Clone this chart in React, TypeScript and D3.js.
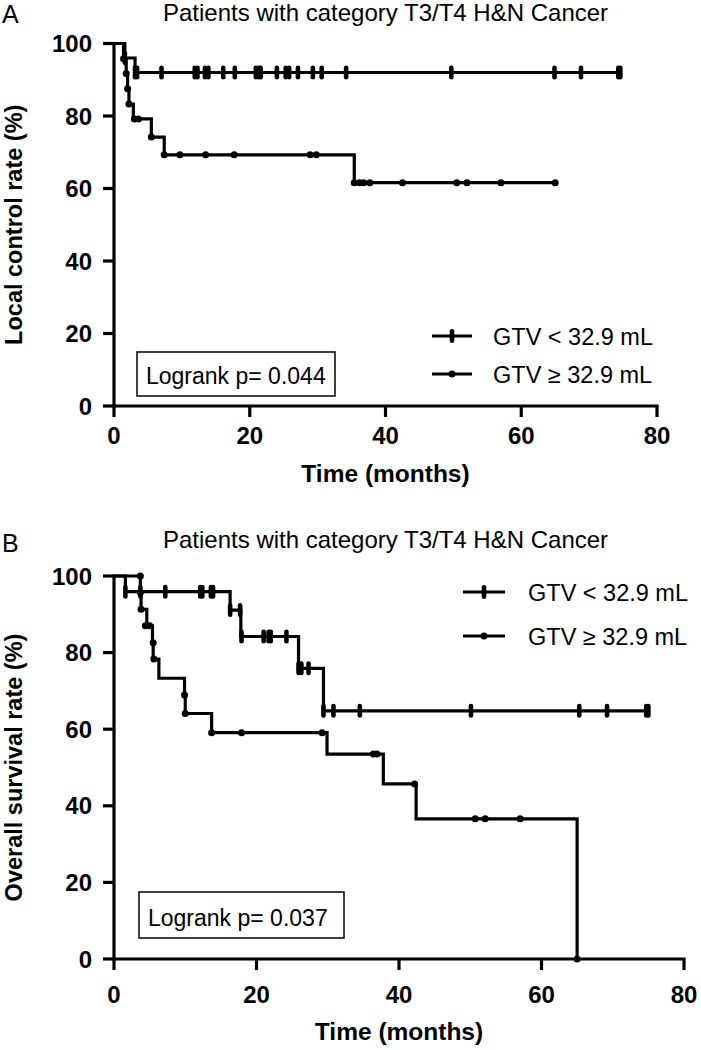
import React from "react";
import * as d3 from "d3";

// ---------- shared ticks ----------
const xTickValues = [0, 20, 40, 60, 80];
const yTickValues = [0, 20, 40, 60, 80, 100];

// ---------- Panel A: local control ----------
const aLtStepT = [0, 1.6, 3.1];
const aLtStepS = [100, 96, 92];
const aLtEnd = 74.6;
const aLtCensT = [1.6, 3.1, 3.4, 7.0, 11.9, 12.3, 13.4, 13.9, 16.1, 17.8, 20.9, 21.3, 21.6, 24.0, 25.3, 25.8, 27.1, 29.3, 30.6, 34.2, 49.7, 64.9, 68.8, 74.3, 74.6];
const aLtCensS = [96, 92, 92, 92, 92, 92, 92, 92, 92, 92, 92, 92, 92, 92, 92, 92, 92, 92, 92, 92, 92, 92, 92, 92, 92];

const aGeStepT = [0, 1.4, 1.8, 2.0, 2.2, 2.85, 5.5, 7.4, 35.4];
const aGeStepS = [100, 95.8, 91.7, 87.5, 83.3, 79.2, 74.2, 69.3, 61.6];
const aGeEnd = 65.0;
const aGeCensT = [1.4, 1.8, 2.0, 2.2, 3.0, 3.6, 5.5, 7.4, 9.7, 13.5, 17.7, 28.9, 29.8, 35.4, 36.2, 36.8, 37.7, 42.5, 50.5, 52.0, 57.0, 65.0];
const aGeCensS = [95.8, 91.7, 87.5, 83.3, 79.2, 79.2, 74.2, 69.3, 69.3, 69.3, 69.3, 69.3, 69.3, 61.6, 61.6, 61.6, 61.6, 61.6, 61.6, 61.6, 61.6, 61.6];

// ---------- Panel B: overall survival ----------
const bLtStepT = [0, 1.6, 16.3, 17.8, 25.9, 29.4];
const bLtStepS = [100, 95.9, 91.1, 84.2, 75.9, 64.8];
const bLtEnd = 75.0;
const bLtCensT = [1.6, 3.7, 7.2, 12.1, 12.4, 13.6, 13.9, 16.3, 17.7, 17.9, 21.0, 21.7, 22.0, 24.2, 25.9, 26.3, 27.3, 29.4, 30.8, 34.5, 50.1, 65.3, 69.2, 74.7, 75.0];
const bLtCensS = [95.9, 95.9, 95.9, 95.9, 95.9, 95.9, 95.9, 91.1, 91.1, 84.2, 84.2, 84.2, 84.2, 84.2, 75.9, 75.9, 75.9, 64.8, 64.8, 64.8, 64.8, 64.8, 64.8, 64.8, 64.8];

const bGeStepT = [0, 3.7, 3.8, 4.6, 5.4, 5.5, 6.3, 9.9, 10.0, 13.7, 29.9, 37.8, 42.4, 65.0];
const bGeStepS = [100, 95.7, 91.3, 87.0, 82.6, 78.3, 73.3, 68.9, 64.1, 59.1, 53.5, 45.7, 36.6, 0];
const bGeEnd = 65.0;
const bGeCensT = [3.7, 3.7, 3.8, 4.4, 5.0, 5.5, 5.6, 9.9, 10.0, 13.7, 17.9, 29.2, 36.4, 36.9, 42.2, 50.7, 52.1, 57.0, 65.0];
const bGeCensS = [100, 95.7, 91.3, 87.0, 87.0, 82.6, 78.3, 68.9, 64.1, 59.1, 59.1, 59.1, 53.5, 53.5, 45.7, 36.6, 36.6, 36.6, 0];

const legendLabels = ["GTV < 32.9 mL", "GTV \u2265 32.9 mL"];
const panelTitle = "Patients with category T3/T4 H&N Cancer";

const FONT = "'Liberation Sans', Arial, Helvetica, sans-serif";

type Series = { stepT: number[]; stepS: number[]; end: number; censT: number[]; censS: number[]; mark: "bar" | "dot" };

function Marker({ kind, x, y }: { kind: "bar" | "dot"; x: number; y: number }) {
  if (kind === "bar") return <rect x={x - 2.3} y={y - 7} width={4.6} height={14} rx={2.3} fill="#000" />;
  return <circle cx={x} cy={y} r={3.5} fill="#000" />;
}

function Panel(props: any) {
  const { x0, x1, yTop, yBot, series, letter, letterY, titleY, yLabel, pText, box, legend, tickLabelY, xTitleY } = props;
  const x = d3.scaleLinear().domain([0, 80]).range([x0, x1]);
  const y = d3.scaleLinear().domain([0, 100]).range([yBot, yTop]);
  const line = d3.line<[number, number]>().x((d) => x(d[0])).y((d) => y(d[1])).curve(d3.curveStepAfter);
  const ticksX = x.ticks(4).filter((v) => xTickValues.includes(v));
  const ticksY = y.ticks(5).filter((v) => yTickValues.includes(v));
  return (
    <g>
      <text x={2} y={letterY} fontSize={25} fontFamily={FONT}>{letter}</text>
      <text x={163} y={titleY} fontSize={24} fontFamily={FONT}>{panelTitle}</text>
      {series.map((s: Series, i: number) => {
        const pts: [number, number][] = s.stepT.map((t, k) => [t, s.stepS[k]] as [number, number]);
        pts.push([s.end, s.stepS[s.stepS.length - 1]]);
        return (
          <g key={i}>
            <path d={line(pts) || ""} fill="none" stroke="#000" strokeWidth={3.2} />
            {s.censT.map((t, k) => (
              <Marker key={k} kind={s.mark} x={x(t)} y={y(s.censS[k])} />
            ))}
          </g>
        );
      })}
      {/* axes */}
      <line x1={x0} x2={x0} y1={y(100)} y2={yBot} stroke="#000" strokeWidth={3.2} strokeLinecap="square" />
      <line x1={x0} x2={x(80)} y1={yBot} y2={yBot} stroke="#000" strokeWidth={3.2} strokeLinecap="square" />
      {ticksY.map((v) => (
        <g key={"y" + v}>
          <line x1={x0 - 11} x2={x0} y1={y(v)} y2={y(v)} stroke="#000" strokeWidth={3.2} />
          <text x={x0 - 22} y={y(v) + 8.5} textAnchor="end" fontSize={24} fontWeight="bold" fontFamily={FONT}>{v}</text>
        </g>
      ))}
      {ticksX.map((v) => (
        <g key={"x" + v}>
          <line x1={x(v)} x2={x(v)} y1={yBot} y2={yBot + 11} stroke="#000" strokeWidth={3.2} />
          <text x={x(v)} y={tickLabelY} textAnchor="middle" fontSize={24} fontWeight="bold" fontFamily={FONT}>{v}</text>
        </g>
      ))}
      <text x={(x0 + x(80)) / 2} y={xTitleY} textAnchor="middle" fontSize={24.5} fontWeight="bold" fontFamily={FONT}>Time (months)</text>
      <text transform={`translate(22,${(y(100) + yBot) / 2}) rotate(-90)`} textAnchor="middle" fontSize={23.5} fontWeight="bold" fontFamily={FONT}>{yLabel}</text>
      {/* logrank box */}
      <rect x={box.x} y={box.y} width={box.w} height={box.h} fill="none" stroke="#000" strokeWidth={1.5} />
      <text x={box.x + 9} y={box.y + box.h - 12} fontSize={23} fontFamily={FONT}>{pText}</text>
      {/* legend */}
      {legendLabels.map((lab, i) => (
        <g key={lab}>
          <line x1={legend.lx1} x2={legend.lx2} y1={legend.ys[i]} y2={legend.ys[i]} stroke="#000" strokeWidth={3.2} />
          <Marker kind={i === 0 ? "bar" : "dot"} x={(legend.lx1 + legend.lx2) / 2} y={legend.ys[i]} />
          <text x={legend.tx} y={legend.ys[i] + 8.5} fontSize={23.5} fontFamily={FONT}>{lab}</text>
        </g>
      ))}
    </g>
  );
}

export default function App() {
  const seriesA: Series[] = [
    { stepT: aLtStepT, stepS: aLtStepS, end: aLtEnd, censT: aLtCensT, censS: aLtCensS, mark: "bar" },
    { stepT: aGeStepT, stepS: aGeStepS, end: aGeEnd, censT: aGeCensT, censS: aGeCensS, mark: "dot" },
  ];
  const seriesB: Series[] = [
    { stepT: bLtStepT, stepS: bLtStepS, end: bLtEnd, censT: bLtCensT, censS: bLtCensS, mark: "bar" },
    { stepT: bGeStepT, stepS: bGeStepS, end: bGeEnd, censT: bGeCensT, censS: bGeCensS, mark: "dot" },
  ];
  return (
    <svg width={701} height={1050} style={{ position: "absolute", left: 0, top: 0, background: "#fff" }}>
      <rect width={701} height={1050} fill="#fff" />
      <Panel
        x0={114} x1={657} yTop={43.5} yBot={406}
        series={seriesA}
        letter="A" letterY={23} titleY={21}
        yLabel="Local control rate (%)"
        pText="Logrank p= 0.044"
        box={{ x: 137, y: 352, w: 198, h: 44 }}
        legend={{ lx1: 432, lx2: 472, tx: 493, ys: [336, 374] }}
        tickLabelY={444} xTitleY={482}
      />
      <Panel
        x0={114} x1={684} yTop={576} yBot={959}
        series={seriesB}
        letter="B" letterY={552} titleY={548}
        yLabel="Overall survival rate (%)"
        pText="Logrank p= 0.037"
        box={{ x: 139, y: 892, w: 205, h: 46 }}
        legend={{ lx1: 463, lx2: 505, tx: 528, ys: [592, 636] }}
        tickLabelY={1003} xTitleY={1040}
      />
    </svg>
  );
}
